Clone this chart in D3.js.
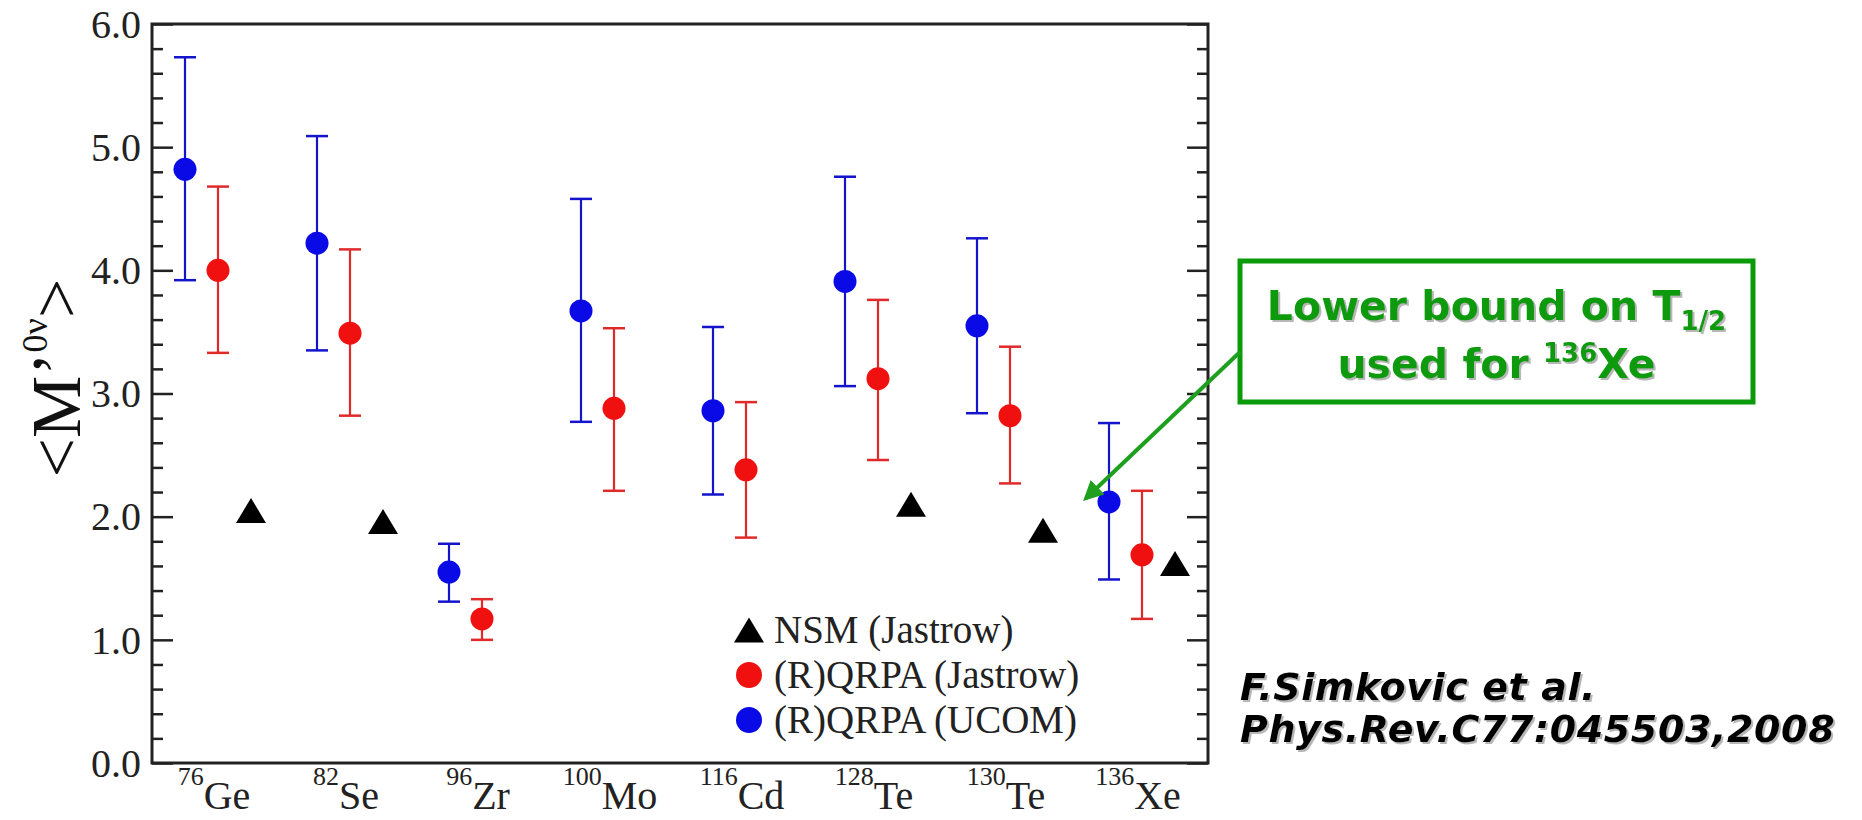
<!DOCTYPE html>
<html><head><meta charset="utf-8">
<script src="https://cdn.jsdelivr.net/npm/d3@7/dist/d3.min.js"></script>
<style>body{margin:0;background:#fff;} svg{display:block}</style>
</head><body>
<svg id="chart" width="1862" height="820"></svg>
<script>
// ---- data ----
const massNumbers = ["76","82","96","100","116","128","130","136"];
const elements    = ["Ge","Se","Zr","Mo","Cd","Te","Te","Xe"];
const ucomValue = [4.82, 4.22, 1.55, 3.67, 2.86, 3.91, 3.55, 2.12];
const ucomLow   = [3.92, 3.35, 1.31, 2.77, 2.18, 3.06, 2.84, 1.49];
const ucomHigh  = [5.73, 5.09, 1.78, 4.58, 3.54, 4.76, 4.26, 2.76];
const jastrowValue = [4.00, 3.49, 1.17, 2.88, 2.38, 3.12, 2.82, 1.69];
const jastrowLow   = [3.33, 2.82, 1.00, 2.21, 1.83, 2.46, 2.27, 1.17];
const jastrowHigh  = [4.68, 4.17, 1.33, 3.53, 2.93, 3.76, 3.38, 2.21];
const nsmValue = [2.05, 1.96, null, null, null, 2.10, 1.89, 1.62];
const yTicks = [0, 1, 2, 3, 4, 5, 6];
const legendLabels = ["NSM (Jastrow)", "(R)QRPA (Jastrow)", "(R)QRPA (UCOM)"];
const annotationLines = ["Lower bound on T", "used for "];
const citation = ["F.Simkovic et al.", "Phys.Rev.C77:045503,2008"];
const arrowTarget = {index: 7, value: 2.15};

// ---- layout ----
const L = 152, R = 1208, T = 24, B = 763;
const svg = d3.select("#chart");
svg.append("rect").attr("width",1862).attr("height",820).attr("fill","#fff");

const x = d3.scaleBand().domain(d3.range(massNumbers.length)).range([L, R]);
const y = d3.scaleLinear().domain([0, 6]).range([B, T]);
const bw = x.bandwidth();
const xBlue = i => x(i) + bw * 0.25;
const xRed  = i => x(i) + bw * 0.5;
const xTri  = i => x(i) + bw * 0.75;

const serif = "'Liberation Serif','Times New Roman',serif";
const minor = d3.range(0, 6.001, 0.2).filter(v => Math.abs(v - Math.round(v)) > 1e-6);

// ticks inward, both sides
function tickAxis(axisFn, xpos, vals, size) {
  const g = svg.append("g").attr("transform", `translate(${xpos},0)`)
    .call(axisFn(y).tickValues(vals).tickSize(size).tickFormat(""));
  g.select(".domain").remove();
  g.selectAll("line").attr("stroke", "#222").attr("stroke-width", 2.5);
}
tickAxis(d3.axisRight, L, yTicks, 21);
tickAxis(d3.axisRight, L, minor, 11);
tickAxis(d3.axisLeft, R, yTicks, 21);
tickAxis(d3.axisLeft, R, minor, 11);

// y tick labels
const yl = svg.append("g").attr("transform", `translate(${L},0)`)
  .call(d3.axisLeft(y).tickValues(yTicks).tickSize(0).tickPadding(11).tickFormat(d3.format(".1f")));
yl.select(".domain").remove();
yl.selectAll("text").attr("font-family", serif).attr("font-size", 40).attr("fill", "#222").attr("dy", "0.33em");

// x labels
const xl = svg.append("g").attr("transform", `translate(0,${B})`)
  .call(d3.axisBottom(x).tickSize(0).tickFormat(""));
xl.select(".domain").remove();
xl.selectAll(".tick").each(function(i) {
  const t = d3.select(this).append("text")
    .attr("x", -4).attr("y", 46).attr("text-anchor", "middle")
    .attr("font-family", serif).attr("fill", "#222");
  t.append("tspan").attr("font-size", 26).attr("dy", -24).text(massNumbers[i]);
  t.append("tspan").attr("font-size", 40).attr("dy", 24).text(elements[i]);
});

// frame
svg.append("rect").attr("x", L).attr("y", T).attr("width", R - L).attr("height", B - T)
  .attr("fill", "none").attr("stroke", "#222").attr("stroke-width", 3);

// y title
const yt = svg.append("text").attr("transform", "translate(80,378) rotate(-90)")
  .attr("text-anchor", "middle").attr("font-family", serif).attr("fill", "#111");
yt.append("tspan").attr("font-size", 70).text("<M\u2019");
yt.append("tspan").attr("font-size", 36).attr("dy", -33).text("0\u03bd");
yt.append("tspan").attr("font-size", 70).attr("dy", 33).text(">");

// error bars + points
function series(vals, lows, highs, xf, dotColor, barColor) {
  const idx = d3.range(vals.length);
  const g = svg.append("g");
  g.selectAll(".v").data(idx).join("line")
    .attr("x1", xf).attr("x2", xf).attr("y1", i => y(lows[i])).attr("y2", i => y(highs[i]))
    .attr("stroke", barColor).attr("stroke-width", 2.2);
  [lows, highs].forEach(arr => {
    g.selectAll(null).data(idx).join("line")
      .attr("x1", i => xf(i) - 11).attr("x2", i => xf(i) + 11)
      .attr("y1", i => y(arr[i])).attr("y2", i => y(arr[i]))
      .attr("stroke", barColor).attr("stroke-width", 2.5);
  });
  g.selectAll("circle").data(idx).join("circle")
    .attr("cx", xf).attr("cy", i => y(vals[i])).attr("r", 11.5).attr("fill", dotColor);
}
series(ucomValue, ucomLow, ucomHigh, xBlue, "#0a0ae6", "#1414cc");
series(jastrowValue, jastrowLow, jastrowHigh, xRed, "#f01010", "#e02a2a");

const triW = 30, triH = 25;
const triPath = `M0,${-triH/2}L${triW/2},${triH/2}L${-triW/2},${triH/2}Z`;
svg.append("g").selectAll("path")
  .data(d3.range(nsmValue.length).filter(i => nsmValue[i] != null))
  .join("path").attr("d", triPath)
  .attr("transform", i => `translate(${xTri(i)},${y(nsmValue[i])})`).attr("fill", "#000");

// legend
const lg = svg.append("g").attr("transform", "translate(749,630)");
const rowH = 45;
legendLabels.forEach((lab, k) => {
  const row = lg.append("g").attr("transform", `translate(0,${k * rowH})`);
  if (k === 0) row.append("path").attr("d", triPath).attr("fill", "#000");
  else row.append("circle").attr("r", 13).attr("fill", k === 1 ? "#f01010" : "#0a0ae6");
  row.append("text").attr("x", 25).attr("y", 13).attr("font-family", serif)
    .attr("font-size", 39).attr("fill", "#222").text(lab);
});

// shadow filter
const defs = svg.append("defs");
const f = defs.append("filter").attr("id", "sh").attr("x", "-5%").attr("y", "-20%").attr("width", "110%").attr("height", "140%");
f.append("feDropShadow").attr("dx", 2).attr("dy", 2).attr("stdDeviation", 0.6).attr("flood-color", "#999").attr("flood-opacity", 0.7);
defs.append("marker").attr("id", "ah").attr("viewBox", "0 0 10 10").attr("refX", 8).attr("refY", 5)
  .attr("markerWidth", 5).attr("markerHeight", 5).attr("orient", "auto-start-reverse")
  .append("path").attr("d", "M0,0L10,5L0,10Z").attr("fill", "#1ea01e");

// annotation box
const bx = 1240, by = 261, bwid = 513, bht = 141;
svg.append("rect").attr("x", bx).attr("y", by).attr("width", bwid).attr("height", bht)
  .attr("fill", "#fff").attr("stroke", "#0a9a0a").attr("stroke-width", 5);
const sansB = "'DejaVu Sans',Verdana,sans-serif";
const a1 = svg.append("text").attr("x", bx + bwid / 2).attr("y", 320).attr("text-anchor", "middle")
  .attr("font-family", sansB).attr("font-weight", "bold").attr("font-size", 41)
  .attr("fill", "#0a9a0a").attr("filter", "url(#sh)");
a1.append("tspan").text(annotationLines[0]);
a1.append("tspan").attr("font-size", 26).attr("dy", 10).text("1/2");
const a2 = svg.append("text").attr("x", bx + bwid / 2).attr("y", 378).attr("text-anchor", "middle")
  .attr("font-family", sansB).attr("font-weight", "bold").attr("font-size", 41)
  .attr("fill", "#0a9a0a").attr("filter", "url(#sh)");
a2.append("tspan").text(annotationLines[1]);
a2.append("tspan").attr("font-size", 26).attr("dy", -16).text("136");
a2.append("tspan").attr("dy", 16).text("Xe");

// arrow
svg.append("line").attr("x1", bx).attr("y1", by + 91)
  .attr("x2", x(arrowTarget.index) + 10).attr("y2", y(arrowTarget.value))
  .attr("stroke", "#1ea01e").attr("stroke-width", 4).attr("marker-end", "url(#ah)");

// citation
citation.forEach((c, k) => {
  svg.append("text").attr("x", 1240).attr("y", 700 + k * 42)
    .attr("font-family", sansB).attr("font-weight", "bold").attr("font-style", "italic")
    .attr("font-size", 38).attr("letter-spacing", 0.6).attr("fill", "#000").attr("filter", "url(#sh)").text(c);
});
</script>
</body></html>
